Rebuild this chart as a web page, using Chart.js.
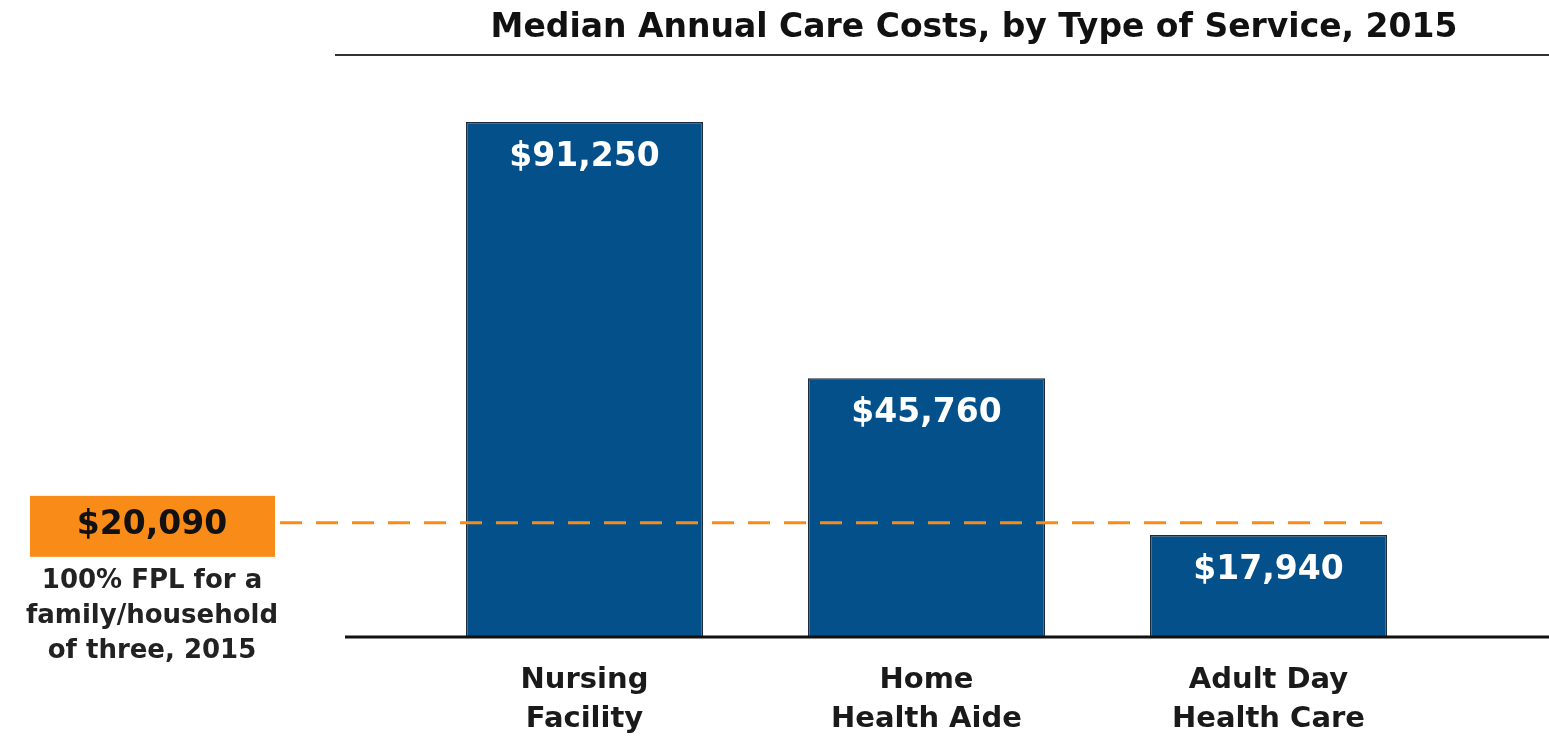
<!DOCTYPE html>
<html>
<head>
<meta charset="utf-8">
<script src="https://cdn.jsdelivr.net/npm/chart.js@4"></script>
<style>
  html, body { margin: 0; padding: 0; background: #fff; }
  #wrap { width: 1549px; height: 736px; position: relative; }
</style>
</head>
<body>
<div id="wrap"><canvas id="graf"></canvas></div>
<script>
// dados
const categorias = [['Nursing', 'Facility'], ['Home', 'Health Aide'], ['Adult Day', 'Health Care']];
const custos = [91250, 45760, 17940];
const fplValor = 20090;
const fplTexto = ['100% FPL for a', 'family/household', 'of three, 2015'];
const titulo = 'Median Annual Care Costs, by Type of Service, 2015';

const AZUL = '#03508a', LARANJA = '#f98b18', PRETO = '#111';
const FONTE = '"DejaVu Sans", Verdana, sans-serif';

const moeda = (v) => '$' + v.toLocaleString('en-US');

// desenha título, linha de base, linha do FPL e rótulos
const extras = {
  id: 'extras',
  afterDatasetsDraw(chart) {
    const { ctx, scales: { x, y } } = chart;
    const base = y.getPixelForValue(0);
    ctx.save();

    // título
    ctx.fillStyle = PRETO;
    ctx.font = 'bold 33px ' + FONTE;
    ctx.textAlign = 'center';
    ctx.textBaseline = 'middle';
    ctx.fillText(titulo, 974, 28);
    ctx.strokeStyle = '#333';
    ctx.lineWidth = 2;
    ctx.beginPath(); ctx.moveTo(335, 55); ctx.lineTo(1549, 55); ctx.stroke();

    // eixo
    ctx.strokeStyle = PRETO;
    ctx.lineWidth = 3;
    ctx.beginPath(); ctx.moveTo(345, base + 1); ctx.lineTo(1549, base + 1); ctx.stroke();

    // valores nas barras
    const meta = chart.getDatasetMeta(0);
    ctx.fillStyle = '#fff';
    ctx.font = 'bold 33px ' + FONTE;
    meta.data.forEach((bar, i) => {
      ctx.fillText(moeda(custos[i]), bar.x, bar.y + 35);
    });

    // rótulos das categorias
    ctx.fillStyle = '#1a1a1a';
    ctx.font = 'bold 29px ' + FONTE;
    categorias.forEach((linhas, i) => {
      const cx = x.getPixelForValue(i);
      linhas.forEach((t, j) => ctx.fillText(t, cx, 680 + j * 39));
    });

    // linha do FPL
    const yf = y.getPixelForValue(fplValor);
    ctx.strokeStyle = LARANJA;
    ctx.lineWidth = 3;
    ctx.setLineDash([22, 14]);
    ctx.beginPath(); ctx.moveTo(280, yf); ctx.lineTo(1392, yf); ctx.stroke();
    ctx.setLineDash([]);

    // caixa do FPL
    ctx.fillStyle = LARANJA;
    ctx.fillRect(30, yf - 27, 245, 61);
    ctx.fillStyle = PRETO;
    ctx.font = 'bold 33px ' + FONTE;
    ctx.fillText(moeda(fplValor), 152, yf + 3);
    ctx.fillStyle = '#222';
    ctx.font = 'bold 26px ' + FONTE;
    fplTexto.forEach((t, j) => ctx.fillText(t, 152, yf + 58 + j * 35));

    ctx.restore();
  }
};

const ymax = 100000;
const alturaBarra = 514; // px de 0 até 91.250
const topo = 636 - alturaBarra * ymax / custos[0];

new Chart(document.getElementById('graf'), {
  type: 'bar',
  data: {
    labels: categorias.map((c) => c.join(' ')),
    datasets: [{
      data: custos,
      backgroundColor: AZUL,
      borderColor: '#1b2b3b',
      borderWidth: 1.5,
      barPercentage: 0.693,
      categoryPercentage: 1,
    }],
  },
  options: {
    responsive: true, maintainAspectRatio: false, animation: false,
    layout: { padding: { left: 413.5, right: 109.5, top: topo, bottom: 100 } },
    scales: {
      x: { display: false },
      y: { display: false, min: 0, max: ymax },
    },
    plugins: { legend: { display: false }, tooltip: { enabled: false } },
  },
  plugins: [extras],
});
</script>
</body>
</html>
